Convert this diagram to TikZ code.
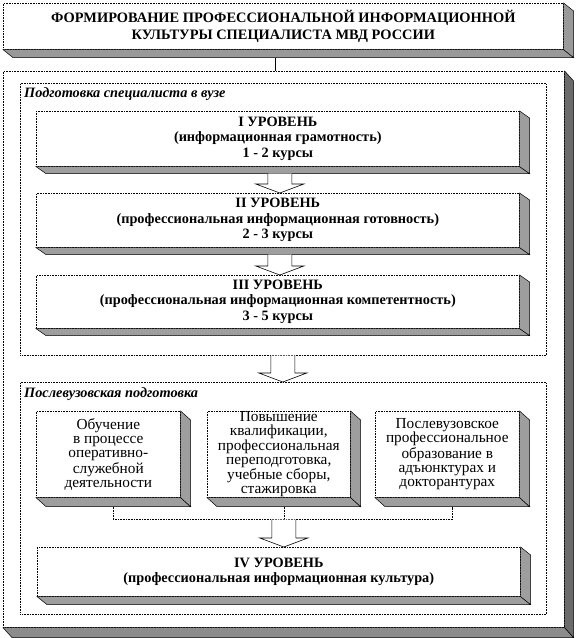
\documentclass[tikz,border=0pt]{standalone}
\usepackage{fontspec}
\setmainfont{Liberation Serif}
\usetikzlibrary{calc}
\tikzset{
  face/.style={draw, densely dotted, fill=white, line width=0.6pt, inner sep=0pt, align=center, anchor=north west},
  framebox/.style={draw, densely dotted, line width=0.6pt, inner sep=0pt, anchor=north west},
  dotline/.style={draw, densely dotted, line width=0.6pt},
  barrowst/.style={draw=black, fill=white, line width=0.6pt, line join=miter},
  lvl/.style={font=\fontsize{14.3}{15.5}\selectfont\bfseries},
  ttl/.style={font=\fontsize{14.4}{17}\selectfont\bfseries},
  sm/.style={font=\fontsize{15.3}{14.2}\selectfont},
  lab/.style={font=\fontsize{14.3}{15}\selectfont\bfseries\itshape, anchor=west, inner sep=0pt},
}
% #1 node, #2 dx, #3 dy, #4 bottom colour, #5 right colour
\newcommand\myslab[5]{%
  \filldraw[fill=#4, draw=black, line width=0.5pt] (#1.south west) -- (#1.south east) -- ++(#2,#3) -- ($(#1.south west)+(#2,#3)$) -- cycle;
  \filldraw[fill=#5, draw=black, line width=0.5pt] (#1.north east) -- ++(#2,#3) -- ($(#1.south east)+(#2,#3)$) -- (#1.south east) -- cycle;
}
\newcommand\myarrow[2]{%
  \path[barrowst] let \p1=(#1), \p2=(#2) in
    (\x1-12pt,\y1) -- (\x1-12pt,\y2+9pt) -- (\x1-24pt,\y2+9pt) -- (\x1,\y2)
    -- (\x1+24pt,\y2+9pt) -- (\x1+12pt,\y2+9pt) -- (\x1+12pt,\y1);
}
\begin{document}
\begin{tikzpicture}[x=1pt, y=-1pt]
\useasboundingbox[fill=white] (0,0) rectangle (576,638);

% title
\node[face, ttl, minimum width=560pt, minimum height=46pt] (title) at (3,3)
  {ФОРМИРОВАНИЕ ПРОФЕССИОНАЛЬНОЙ ИНФОРМАЦИОННОЙ\\КУЛЬТУРЫ СПЕЦИАЛИСТА МВД РОССИИ};
\myslab{title}{10}{8}{black!40}{black!40}

% outer box
\node[face, minimum width=561pt, minimum height=556pt] (outer) at (3,71) {};
\myslab{outer}{9}{10}{black!45}{black!58}

\coordinate (tc) at ($(title.south)+(-8.5,8)$);
\draw[line width=0.6pt] (tc) -- (tc |- outer.north);

% frame 1
\node[framebox, minimum width=526pt, minimum height=272pt] (vuz) at (20,83) {};
\node[lab] (vuzlab) at (24,94) {Подготовка специалиста в вузе};

\node[face, lvl, minimum width=483pt, minimum height=55pt] (l1) at (36,111)
  {I УРОВЕНЬ\\(информационная грамотность)\\1 - 2 курсы};
\myslab{l1}{10}{7}{black!38}{black!38}
\node[face, lvl, minimum width=483pt, minimum height=54pt] (l2) at (36,193)
  {II УРОВЕНЬ\\(профессиональная информационная готовность)\\2 - 3 курсы};
\myslab{l2}{10}{7}{black!38}{black!38}
\node[face, lvl, minimum width=483pt, minimum height=53pt] (l3) at (36,275)
  {III УРОВЕНЬ\\(профессиональная информационная компетентность)\\3 - 5 курсы};
\myslab{l3}{10}{7}{black!38}{black!38}

\coordinate (a1s) at ($(l1.south)+(2,7)$);
\myarrow{a1s}{a1s |- l2.north}
\coordinate (a2s) at ($(l2.south)+(2,7)$);
\myarrow{a2s}{a2s |- l3.north}

% frame 2
\node[framebox, minimum width=526pt, minimum height=232pt] (post) at (20,382) {};
\node[lab] (postlab) at (24,394) {Послевузовская подготовка};

\coordinate (a3s) at ($(vuz.south)+(-0.5,0)$);
\myarrow{a3s}{a3s |- post.north}

\node[face, sm, minimum width=144pt, minimum height=86pt] (b1) at (36,411)
  {Обучение\\в процессе\\оперативно-\\служебной\\деятельности};
\myslab{b1}{10}{9}{black!38}{black!38}
\node[face, sm, minimum width=143pt, minimum height=86pt] (b2) at (207,411)
  {Повышение\\квалификации,\\профессиональная\\переподготовка,\\учебные сборы,\\стажировка};
\myslab{b2}{10}{9}{black!38}{black!38}
\node[face, sm, minimum width=144pt, minimum height=86pt] (b3) at (375,411)
  {Послевузовское\\профессиональное\\образование в\\адъюнктурах и\\докторантурах};
\myslab{b3}{10}{9}{black!38}{black!38}

\node[face, lvl, minimum width=483pt, minimum height=49pt] (l4) at (37,547)
  {IV УРОВЕНЬ\\(профессиональная информационная культура)};
\myslab{l4}{10}{8}{black!38}{black!38}

\coordinate (j1) at ($(b1.south)+(5,9)$);
\coordinate (j2) at ($(b2.south)+(5,9)$);
\coordinate (j3) at ($(b3.south)+(5,9)$);
\coordinate (jh) at ($(b2.south)+(5,22)$);
\draw[dotline] (j1) -- (j1 |- jh) -- (j3 |- jh) -- (j3);
\draw[dotline] (j2) -- (jh);
\myarrow{jh}{jh |- l4.north}
\end{tikzpicture}
\end{document}
